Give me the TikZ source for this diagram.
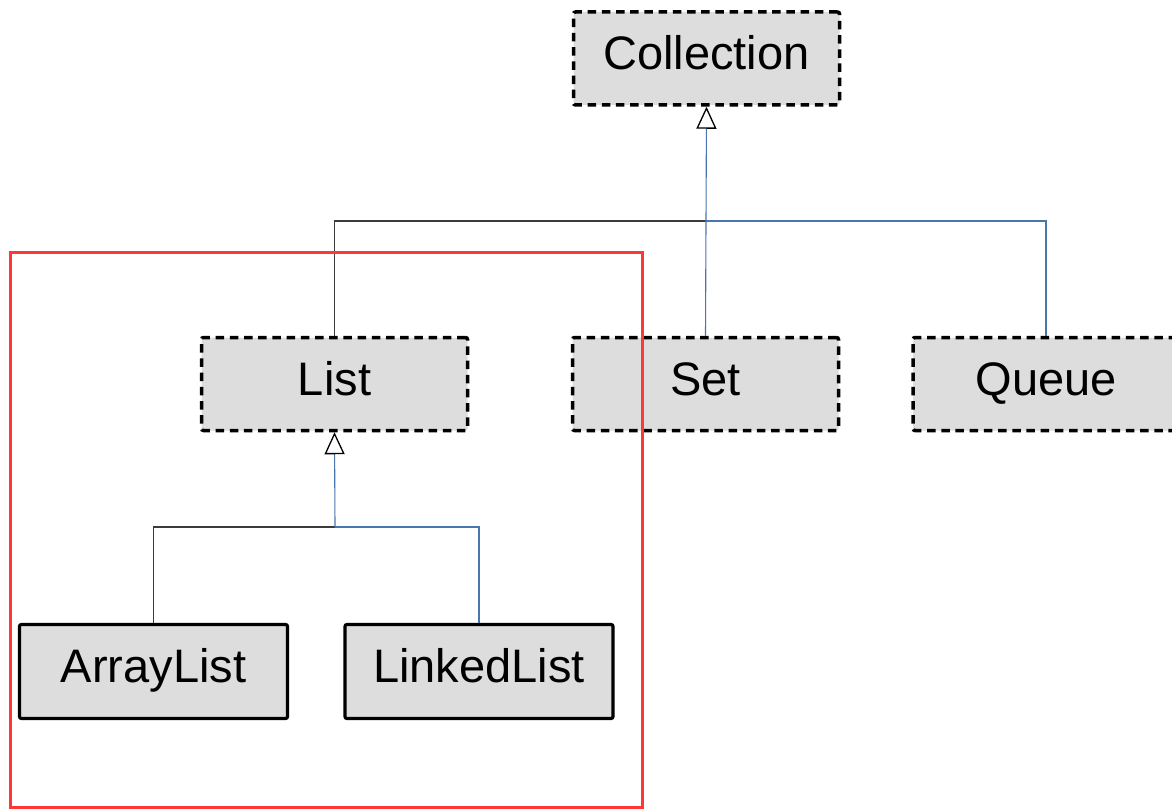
\documentclass[tikz,border=0pt]{standalone}
\usepackage{fontspec}
\setmainfont{Liberation Sans}
\usetikzlibrary{arrows.meta}
\definecolor{boxfill}{RGB}{221,221,221}
\definecolor{linkblue}{RGB}{74,118,176}
\definecolor{linkgray}{RGB}{60,60,60}
\definecolor{framered}{RGB}{255,55,55}
\tikzset{
  iface/.style={draw=black, fill=boxfill, line width=3.5pt, dash pattern=on 8.5pt off 5.7pt,
    rounded corners=2pt, minimum width=266pt, minimum height=93pt, inner sep=0pt,
    font=\fontsize{47}{56}\selectfont, text height=35pt, text depth=12.4pt},
  klass/.style={draw=black, fill=boxfill, line width=3.2pt, rounded corners=2pt,
    minimum width=268pt, minimum height=94pt, inner sep=0pt,
    font=\fontsize{47}{56}\selectfont, text height=35pt, text depth=12.4pt},
  grayline/.style={draw=linkgray, line width=1.1pt},
  blueline/.style={draw=linkblue, line width=1.1pt},
  inherit/.style={draw=linkblue, line width=1.1pt,
    -{Triangle[open, width=20pt, length=22pt, color=black, line width=1.3pt]}},
}
\begin{document}
\begin{tikzpicture}[x=1pt, y=-1pt]
\useasboundingbox (0,0) rectangle (1172,810);
\clip (0,0) rectangle (1172,810);
\fill[white] (0,0) rectangle (1172,810);
% nodes
\node[iface] (Collection) at (706.5,58.5) {Collection};
\node[iface] (List) at (334.5,384) {List};
\node[iface] (Set) at (705.5,384) {Set};
\node[iface] (Queue) at (1046,384) {Queue};
\node[klass] (ArrayList) at (153.5,671.5) {ArrayList};
\node[klass] (LinkedList) at (479,671.5) {LinkedList};
% junctions
\coordinate (j1) at (706,221);
\coordinate (j2) at (335,527);
% connectors
\draw[grayline] (List.north) |- (j1);
\draw[blueline] (Set.north) -- (j1);
\draw[blueline] (Queue.north) |- (j1);
\draw[inherit] (j1) -- (Collection.south);
\draw[grayline] (ArrayList.north) |- (j2);
\draw[blueline] (LinkedList.north) |- (j2);
\draw[inherit] (j2) -- (List.south);
% red frame (on top)
\draw[framered, line width=3pt] (10,253) rectangle (642,807);
\end{tikzpicture}
\end{document}
